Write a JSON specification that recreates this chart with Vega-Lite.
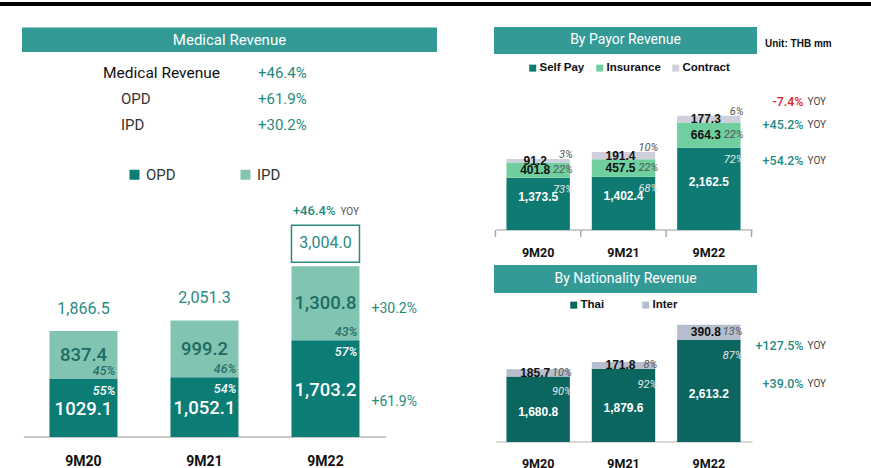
{
  "$schema": "https://vega.github.io/schema/vega-lite/v6.json",
  "padding": {"top": 2, "left": 0, "right": 0, "bottom": 0},
  "background": "white",
  "bounds": "flush",
  "spacing": 108,
  "config": {"font": "Roboto", "view": {"stroke": null}, "axisY": {"disable": true}, "axisX": {"disable": true}},
  "resolve": {"scale": {"color": "independent"}, "legend": {"color": "independent"}},
  "datasets": {
    "med": [
      {"period": "9M20", "seg": "OPD", "value": 1029.1, "label": "1029.1", "pct": "55%"},
      {"period": "9M20", "seg": "IPD", "value": 837.4, "label": "837.4", "pct": "45%", "total": "1,866.5"},
      {"period": "9M21", "seg": "OPD", "value": 1052.1, "label": "1,052.1", "pct": "54%"},
      {"period": "9M21", "seg": "IPD", "value": 999.2, "label": "999.2", "pct": "46%", "total": "2,051.3"},
      {"period": "9M22", "seg": "OPD", "value": 1703.2, "label": "1,703.2", "pct": "57%", "yoy": "+61.9%"},
      {"period": "9M22", "seg": "IPD", "value": 1300.8, "label": "1,300.8", "pct": "43%", "total": "3,004.0", "yoy": "+30.2%", "tyoy": "+46.4%"}
    ],
    "payor": [
      {"period": "9M20", "seg": "Self Pay", "value": 1373.5, "label": "1,373.5", "pct": "73%"},
      {"period": "9M20", "seg": "Insurance", "value": 401.8, "label": "401.8", "pct": "22%"},
      {"period": "9M20", "seg": "Contract", "value": 91.2, "label": "91.2", "pct": "3%"},
      {"period": "9M21", "seg": "Self Pay", "value": 1402.4, "label": "1,402.4", "pct": "68%"},
      {"period": "9M21", "seg": "Insurance", "value": 457.5, "label": "457.5", "pct": "22%"},
      {"period": "9M21", "seg": "Contract", "value": 191.4, "label": "191.4", "pct": "10%"},
      {"period": "9M22", "seg": "Self Pay", "value": 2162.5, "label": "2,162.5", "pct": "72%", "yoy": "+54.2%"},
      {"period": "9M22", "seg": "Insurance", "value": 664.3, "label": "664.3", "pct": "22%", "yoy": "+45.2%"},
      {"period": "9M22", "seg": "Contract", "value": 177.3, "label": "177.3", "pct": "6%", "yoy": "-7.4%"}
    ],
    "nat": [
      {"period": "9M20", "seg": "Thai", "value": 1680.8, "label": "1,680.8", "pct": "90%"},
      {"period": "9M20", "seg": "Inter", "value": 185.7, "label": "185.7", "pct": "10%"},
      {"period": "9M21", "seg": "Thai", "value": 1879.6, "label": "1,879.6", "pct": "92%"},
      {"period": "9M21", "seg": "Inter", "value": 171.8, "label": "171.8", "pct": "8%"},
      {"period": "9M22", "seg": "Thai", "value": 2613.2, "label": "2,613.2", "pct": "87%", "yoy": "+39.0%"},
      {"period": "9M22", "seg": "Inter", "value": 390.8, "label": "390.8", "pct": "13%", "yoy": "+127.5%"}
    ],
    "tbl": [
      {"row": "Medical Revenue", "chg": "+46.4%"},
      {"row": "OPD", "chg": "+61.9%"},
      {"row": "IPD", "chg": "+30.2%"}
    ]
  },
  "hconcat": [
    {
      "width": 386, "height": 435,
      "layer": [
        {
          "data": {"values": [{}]},
          "mark": {"type": "rect", "fill": "#000000", "xOffset": 485},
          "encoding": {"y": {"datum": 7658, "scale": {"domain": [0, 7658], "nice": false}, "axis": null}, "y2": {"datum": 7588}}
        },
        {
          "data": {"values": [{}]},
          "mark": {"type": "rect", "fill": "#339a96", "xOffset": -27.5, "x2Offset": 77.5},
          "encoding": {"x": {"datum": "9M20", "bandPosition": 0}, "x2": {"datum": "9M22", "bandPosition": 1}, "y": {"datum": 7210}, "y2": {"datum": 6778}}
        },
        {
          "data": {"values": [{"t": "Medical Revenue"}]},
          "mark": {"type": "text", "color": "white", "fontSize": 15, "dx": 36.5},
          "encoding": {"y": {"datum": 6989}, "text": {"field": "t"}}
        },
        {
          "data": {"name": "tbl"},
          "transform": [{"filter": "datum.row == 'Medical Revenue'"}],
          "layer": [
            {"mark": {"type": "text", "align": "left", "dx": -90, "fontSize": 15.5, "color": "#111111"}, "encoding": {"y": {"datum": 6408}, "text": {"field": "row"}}},
            {"mark": {"type": "text", "align": "left", "dx": 65, "fontSize": 15, "color": "#1f8a80"}, "encoding": {"y": {"datum": 6408}, "text": {"field": "chg"}}}
          ]
        },
        {
          "data": {"name": "tbl"},
          "transform": [{"filter": "datum.row == 'OPD'"}],
          "layer": [
            {"mark": {"type": "text", "align": "left", "dx": -72, "fontSize": 15, "color": "#333333"}, "encoding": {"y": {"datum": 5951}, "text": {"field": "row"}}},
            {"mark": {"type": "text", "align": "left", "dx": 65, "fontSize": 15, "color": "#1f8a80"}, "encoding": {"y": {"datum": 5951}, "text": {"field": "chg"}}}
          ]
        },
        {
          "data": {"name": "tbl"},
          "transform": [{"filter": "datum.row == 'IPD'"}],
          "layer": [
            {"mark": {"type": "text", "align": "left", "dx": -72, "fontSize": 15, "color": "#333333"}, "encoding": {"y": {"datum": 5493}, "text": {"field": "row"}}},
            {"mark": {"type": "text", "align": "left", "dx": 65, "fontSize": 15, "color": "#1f8a80"}, "encoding": {"y": {"datum": 5493}, "text": {"field": "chg"}}}
          ]
        },
        {
          "data": {"values": [{}]},
          "mark": {"type": "rule", "color": "#c8c8c8", "strokeWidth": 2, "xOffset": -25.5, "x2Offset": 26.5},
          "encoding": {"x": {"datum": "9M20", "bandPosition": 0}, "x2": {"datum": "9M22", "bandPosition": 1}, "y": {"datum": 0}}
        },
        {
          "data": {"name": "med"},
          "transform": [{"stack": "value", "groupby": ["period"], "sort": [{"field": "seg", "order": "descending"}], "as": ["y0", "y1"]}],
          "layer": [
            {
              "mark": {"type": "bar"},
              "encoding": {
                "x": {"field": "period", "type": "nominal", "scale": {"paddingInner": 0.438, "paddingOuter": 0.314, "align": 0.651}, "axis": null},
                "y": {"field": "y1", "type": "quantitative", "stack": null, "axis": null},
                "y2": {"field": "y0"},
                "color": {"field": "seg", "type": "nominal", "scale": {"domain": ["OPD", "IPD"], "range": ["#0b7d75", "#80c4b1"]},
                          "legend": {"orient": "none", "legendX": 127, "legendY": 165, "direction": "horizontal", "title": null, "symbolType": "square", "symbolSize": 100, "labelFontSize": 15, "labelColor": "#333333", "columnPadding": 62, "labelOffset": 4}}
              }
            },
            {
              "transform": [{"filter": "datum.seg == 'OPD'"}],
              "mark": {"type": "text", "dy": 25, "fontSize": 14, "fontWeight": "bold", "color": "#111111"},
              "encoding": {"x": {"field": "period", "type": "nominal"}, "y": {"datum": 0}, "text": {"field": "period"}}
            },
            {
              "transform": [{"filter": "datum.seg == 'IPD'"}, {"fold": ["y0", "y1"], "as": ["k", "pos"]}],
              "mark": {"type": "text", "fontSize": 18.5, "fontWeight": 500, "color": "#1e6b64"},
              "encoding": {"x": {"field": "period", "type": "nominal"}, "y": {"aggregate": "mean", "field": "pos", "type": "quantitative"}, "text": {"field": "label"}}
            },
            {
              "transform": [{"filter": "datum.seg == 'OPD'"}, {"fold": ["y0", "y1"], "as": ["k", "pos"]}],
              "mark": {"type": "text", "fontSize": 18.5, "fontWeight": 500, "color": "white", "dy": 1},
              "encoding": {"x": {"field": "period", "type": "nominal"}, "y": {"aggregate": "mean", "field": "pos", "type": "quantitative"}, "text": {"field": "label"}}
            },
            {
              "transform": [{"filter": "datum.seg == 'IPD'"}],
              "mark": {"type": "text", "align": "right", "dx": -2, "dy": -8, "fontSize": 12.5, "fontStyle": "italic", "fontWeight": 500, "color": "#2c6e66"},
              "encoding": {"x": {"field": "period", "type": "nominal", "bandPosition": 1}, "y": {"field": "y0", "type": "quantitative"}, "text": {"field": "pct"}}
            },
            {
              "transform": [{"filter": "datum.seg == 'OPD'"}],
              "mark": {"type": "text", "align": "right", "dx": -2, "dy": 12, "fontSize": 12.5, "fontStyle": "italic", "fontWeight": 500, "color": "white"},
              "encoding": {"x": {"field": "period", "type": "nominal", "bandPosition": 1}, "y": {"field": "y1", "type": "quantitative"}, "text": {"field": "pct"}}
            },
            {
              "transform": [{"filter": "datum.seg == 'IPD' && datum.period != '9M22'"}],
              "mark": {"type": "text", "dy": -22, "fontSize": 16, "color": "#2a8a82"},
              "encoding": {"x": {"field": "period", "type": "nominal"}, "y": {"field": "y1", "type": "quantitative"}, "text": {"field": "total"}}
            },
            {
              "transform": [{"filter": "datum.seg == 'IPD' && datum.period == '9M22'"}],
              "mark": {"type": "rect", "fill": "white", "stroke": "#2a8a82", "strokeWidth": 1.5, "yOffset": -4, "y2Offset": -41},
              "encoding": {"x": {"field": "period", "type": "nominal"}, "y": {"field": "y1", "type": "quantitative"}, "y2": {"field": "y1"}}
            },
            {
              "transform": [{"filter": "datum.seg == 'IPD' && datum.period == '9M22'"}],
              "mark": {"type": "text", "dy": -23, "fontSize": 16, "color": "#2a8a82"},
              "encoding": {"x": {"field": "period", "type": "nominal"}, "y": {"field": "y1", "type": "quantitative"}, "text": {"field": "total"}}
            },
            {
              "transform": [{"filter": "datum.seg == 'IPD' && datum.period == '9M22'"}],
              "mark": {"type": "text", "dy": -55, "dx": 10, "align": "right", "fontSize": 13, "fontWeight": 500, "color": "#1f8a80"},
              "encoding": {"x": {"field": "period", "type": "nominal"}, "y": {"field": "y1", "type": "quantitative"}, "text": {"field": "tyoy"}}
            },
            {
              "transform": [{"filter": "datum.seg == 'IPD' && datum.period == '9M22'"}],
              "mark": {"type": "text", "dy": -54, "dx": 15, "align": "left", "fontSize": 10, "color": "#555555"},
              "encoding": {"x": {"field": "period", "type": "nominal"}, "y": {"field": "y1", "type": "quantitative"}, "text": {"value": "YOY"}}
            },
            {
              "transform": [{"filter": "datum.seg == 'IPD' && datum.period == '9M22'"}, {"fold": ["y0", "y1"], "as": ["k", "pos"]}],
              "mark": {"type": "text", "align": "left", "dx": 12, "dy": 6, "fontSize": 14, "color": "#1f8a80"},
              "encoding": {"x": {"field": "period", "type": "nominal", "bandPosition": 1}, "y": {"aggregate": "mean", "field": "pos", "type": "quantitative"}, "text": {"field": "yoy"}}
            },
            {
              "transform": [{"filter": "datum.seg == 'OPD' && datum.period == '9M22'"}, {"fold": ["y0", "y1"], "as": ["k", "pos"]}],
              "mark": {"type": "text", "align": "left", "dx": 12, "dy": 13, "fontSize": 14, "color": "#1f8a80"},
              "encoding": {"x": {"field": "period", "type": "nominal", "bandPosition": 1}, "y": {"aggregate": "mean", "field": "pos", "type": "quantitative"}, "text": {"field": "yoy"}}
            }
          ]
        }
      ]
    },
    {
      "width": 259, "height": 440,
      "resolve": {"scale": {"y": "independent", "color": "independent"}, "legend": {"color": "independent"}},
      "layer": [
        {
          "layer": [
            {
              "data": {"values": [{}]},
              "mark": {"type": "rect", "fill": "#339a96", "xOffset": 4},
              "encoding": {"y": {"datum": 5342, "scale": {"domain": [-5579, 6000], "nice": false, "zero": false}, "axis": null}, "y2": {"datum": 4632}}
            },
            {
              "data": {"values": [{"t": "By Payor Revenue"}]},
              "mark": {"type": "text", "color": "white", "fontSize": 14, "dx": 2},
              "encoding": {"y": {"datum": 4987}, "text": {"field": "t"}}
            },
            {
              "data": {"values": [{"u": "Unit: THB mm"}]},
              "mark": {"type": "text", "align": "left", "dx": 141.5, "fontSize": 10, "fontWeight": "bold", "font": "Liberation Sans", "color": "#111111"},
              "encoding": {"y": {"datum": 4895}, "text": {"field": "u"}}
            },
            {
              "data": {"values": [{}]},
              "mark": {"type": "rule", "color": "#bbbbbb", "strokeWidth": 1.5, "xOffset": -10, "x2Offset": 12},
              "encoding": {"x": {"datum": "9M20", "bandPosition": 0}, "x2": {"datum": "9M22", "bandPosition": 1}, "y": {"datum": 0}}
            },
            {
              "data": {"name": "payor"},
              "transform": [{"stack": "value", "groupby": ["period"], "sort": [{"field": "seg", "order": "descending"}], "as": ["y0", "y1"]}],
              "layer": [
                {
                  "mark": {"type": "bar"},
                  "encoding": {
                    "x": {"field": "period", "type": "nominal", "scale": {"paddingInner": 0.257, "paddingOuter": 0.146}, "axis": null},
                    "y": {"field": "y1", "type": "quantitative", "stack": null, "axis": null},
                    "y2": {"field": "y0"},
                    "color": {"field": "seg", "type": "nominal", "scale": {"domain": ["Self Pay", "Insurance", "Contract"], "range": ["#0e7a72", "#6fcf9e", "#cfd0dc"]},
                              "legend": {"orient": "none", "legendX": 33, "legendY": 60, "direction": "horizontal", "title": null, "symbolType": "square", "symbolSize": 49, "labelFontSize": 11.5, "labelFontWeight": "bold", "labelFont": "Liberation Sans", "labelColor": "#111111", "columnPadding": 9, "labelOffset": 1}}
                  }
                },
                {
                  "transform": [{"filter": "datum.seg == 'Self Pay'"}],
                  "mark": {"type": "rule", "color": "#aaaaaa", "strokeWidth": 1.5, "xOffset": -11},
                  "encoding": {"x": {"field": "period", "type": "nominal", "bandPosition": 0}, "y": {"datum": 0}, "y2": {"datum": -184}}
                },
                {
                  "transform": [{"filter": "datum.seg == 'Self Pay' && datum.period == '9M22'"}],
                  "mark": {"type": "rule", "color": "#aaaaaa", "strokeWidth": 1.5, "xOffset": 11},
                  "encoding": {"x": {"field": "period", "type": "nominal", "bandPosition": 1}, "y": {"datum": 0}, "y2": {"datum": -184}}
                },
                {
                  "transform": [{"filter": "datum.seg == 'Self Pay'"}],
                  "mark": {"type": "text", "dy": 23, "fontSize": 12.5, "fontWeight": "bold", "color": "#111111"},
                  "encoding": {"x": {"field": "period", "type": "nominal"}, "y": {"datum": 0}, "text": {"field": "period"}}
                },
                {
                  "transform": [{"filter": "datum.seg != 'Self Pay'"}, {"fold": ["y0", "y1"], "as": ["k", "pos"]}],
                  "mark": {"type": "text", "fontSize": 12, "fontWeight": "bold", "font": "Liberation Sans", "color": "#111111", "dx": -3},
                  "encoding": {"x": {"field": "period", "type": "nominal"}, "y": {"aggregate": "mean", "field": "pos", "type": "quantitative"}, "text": {"field": "label"}}
                },
                {
                  "transform": [{"filter": "datum.seg == 'Self Pay'"}, {"fold": ["y0", "y1"], "as": ["k", "pos"]}],
                  "mark": {"type": "text", "fontSize": 12, "fontWeight": "bold", "font": "Liberation Sans", "color": "white", "dy": -7},
                  "encoding": {"x": {"field": "period", "type": "nominal"}, "y": {"aggregate": "mean", "field": "pos", "type": "quantitative"}, "text": {"field": "label"}}
                },
                {
                  "transform": [{"filter": "datum.seg == 'Contract'"}],
                  "mark": {"type": "text", "align": "right", "dx": 3, "dy": -4, "fontSize": 11, "fontStyle": "italic", "color": "#555555"},
                  "encoding": {"x": {"field": "period", "type": "nominal", "bandPosition": 1}, "y": {"field": "y1", "type": "quantitative"}, "text": {"field": "pct"}}
                },
                {
                  "transform": [{"filter": "datum.seg == 'Insurance'"}, {"fold": ["y0", "y1"], "as": ["k", "pos"]}],
                  "mark": {"type": "text", "align": "right", "dx": 3, "fontSize": 11, "fontStyle": "italic", "color": "#555555"},
                  "encoding": {"x": {"field": "period", "type": "nominal", "bandPosition": 1}, "y": {"aggregate": "mean", "field": "pos", "type": "quantitative"}, "text": {"field": "pct"}}
                },
                {
                  "transform": [{"filter": "datum.seg == 'Self Pay'"}],
                  "mark": {"type": "text", "align": "right", "dx": 3, "dy": 12, "fontSize": 11, "fontStyle": "italic", "color": "#e8e8e8"},
                  "encoding": {"x": {"field": "period", "type": "nominal", "bandPosition": 1}, "y": {"field": "y1", "type": "quantitative"}, "text": {"field": "pct"}}
                },
                {
                  "transform": [{"filter": "datum.seg == 'Contract' && datum.period == '9M22'"}],
                  "mark": {"type": "text", "align": "right", "dx": 63, "dy": -14, "fontSize": 12.5, "fontWeight": 500, "color": "#e02424"},
                  "encoding": {"x": {"field": "period", "type": "nominal", "bandPosition": 1}, "y": {"field": "y1", "type": "quantitative"}, "text": {"field": "yoy"}}
                },
                {
                  "transform": [{"filter": "datum.seg == 'Contract' && datum.period == '9M22'"}],
                  "mark": {"type": "text", "align": "left", "dx": 67, "dy": -14, "fontSize": 10, "color": "#444444"},
                  "encoding": {"x": {"field": "period", "type": "nominal", "bandPosition": 1}, "y": {"field": "y1", "type": "quantitative"}, "text": {"value": "YOY"}}
                },
                {
                  "transform": [{"filter": "datum.seg == 'Insurance' && datum.period == '9M22'"}],
                  "mark": {"type": "text", "align": "right", "dx": 63, "dy": 2, "fontSize": 12.5, "fontWeight": 500, "color": "#1f8a80"},
                  "encoding": {"x": {"field": "period", "type": "nominal", "bandPosition": 1}, "y": {"field": "y1", "type": "quantitative"}, "text": {"field": "yoy"}}
                },
                {
                  "transform": [{"filter": "datum.seg == 'Insurance' && datum.period == '9M22'"}],
                  "mark": {"type": "text", "align": "left", "dx": 67, "dy": 2, "fontSize": 10, "color": "#444444"},
                  "encoding": {"x": {"field": "period", "type": "nominal", "bandPosition": 1}, "y": {"field": "y1", "type": "quantitative"}, "text": {"value": "YOY"}}
                },
                {
                  "transform": [{"filter": "datum.seg == 'Self Pay' && datum.period == '9M22'"}],
                  "mark": {"type": "text", "align": "right", "dx": 63, "dy": 13, "fontSize": 12.5, "fontWeight": 500, "color": "#1f8a80"},
                  "encoding": {"x": {"field": "period", "type": "nominal", "bandPosition": 1}, "y": {"field": "y1", "type": "quantitative"}, "text": {"field": "yoy"}}
                },
                {
                  "transform": [{"filter": "datum.seg == 'Self Pay' && datum.period == '9M22'"}],
                  "mark": {"type": "text", "align": "left", "dx": 67, "dy": 13, "fontSize": 10, "color": "#444444"},
                  "encoding": {"x": {"field": "period", "type": "nominal", "bandPosition": 1}, "y": {"field": "y1", "type": "quantitative"}, "text": {"value": "YOY"}}
                }
              ]
            }
          ]
        },
        {
          "layer": [
            {
              "data": {"values": [{}]},
              "mark": {"type": "rect", "fill": "#339a96", "xOffset": 4},
              "encoding": {"y": {"datum": 4538, "scale": {"domain": [0, 11282], "nice": false}, "axis": null}, "y2": {"datum": 3821}}
            },
            {
              "data": {"values": [{"t": "By Nationality  Revenue"}]},
              "mark": {"type": "text", "color": "white", "fontSize": 14, "dx": 2},
              "encoding": {"y": {"datum": 4179}, "text": {"field": "t"}}
            },
            {
              "data": {"values": [{}]},
              "mark": {"type": "rule", "color": "#cccccc", "strokeWidth": 1.5, "xOffset": -10, "x2Offset": 12},
              "encoding": {"x": {"datum": "9M20", "bandPosition": 0}, "x2": {"datum": "9M22", "bandPosition": 1}, "y": {"datum": 0}}
            },
            {
              "data": {"name": "nat"},
              "transform": [{"stack": "value", "groupby": ["period"], "sort": [{"field": "seg", "order": "descending"}], "as": ["y0", "y1"]}],
              "layer": [
                {
                  "mark": {"type": "bar"},
                  "encoding": {
                    "x": {"field": "period", "type": "nominal", "scale": {"paddingInner": 0.257, "paddingOuter": 0.146}, "axis": null},
                    "y": {"field": "y1", "type": "quantitative", "stack": null, "axis": null},
                    "y2": {"field": "y0"},
                    "color": {"field": "seg", "type": "nominal", "scale": {"domain": ["Thai", "Inter"], "range": ["#0b6660", "#b6bdcc"]},
                              "legend": {"orient": "none", "legendX": 74, "legendY": 297, "direction": "horizontal", "title": null, "symbolType": "square", "symbolSize": 49, "labelFontSize": 11.5, "labelFontWeight": "bold", "labelFont": "Liberation Sans", "labelColor": "#111111", "columnPadding": 35, "labelOffset": 1}}
                  }
                },
                {
                  "transform": [{"filter": "datum.seg == 'Thai'"}],
                  "mark": {"type": "text", "dy": 22, "fontSize": 12.5, "fontWeight": "bold", "color": "#111111"},
                  "encoding": {"x": {"field": "period", "type": "nominal"}, "y": {"datum": 0}, "text": {"field": "period"}}
                },
                {
                  "transform": [{"filter": "datum.seg == 'Inter'"}, {"fold": ["y0", "y1"], "as": ["k", "pos"]}],
                  "mark": {"type": "text", "fontSize": 12, "fontWeight": "bold", "font": "Liberation Sans", "color": "#111111", "dx": -3},
                  "encoding": {"x": {"field": "period", "type": "nominal"}, "y": {"aggregate": "mean", "field": "pos", "type": "quantitative"}, "text": {"field": "label"}}
                },
                {
                  "transform": [{"filter": "datum.seg == 'Thai'"}, {"fold": ["y0", "y1"], "as": ["k", "pos"]}],
                  "mark": {"type": "text", "fontSize": 12, "fontWeight": "bold", "font": "Liberation Sans", "color": "white", "dy": 3},
                  "encoding": {"x": {"field": "period", "type": "nominal"}, "y": {"aggregate": "mean", "field": "pos", "type": "quantitative"}, "text": {"field": "label"}}
                },
                {
                  "transform": [{"filter": "datum.seg == 'Inter'"}, {"fold": ["y0", "y1"], "as": ["k", "pos"]}],
                  "mark": {"type": "text", "align": "right", "dx": 2, "fontSize": 11, "fontStyle": "italic", "color": "#555555"},
                  "encoding": {"x": {"field": "period", "type": "nominal", "bandPosition": 1}, "y": {"aggregate": "mean", "field": "pos", "type": "quantitative"}, "text": {"field": "pct"}}
                },
                {
                  "transform": [{"filter": "datum.seg == 'Thai'"}],
                  "mark": {"type": "text", "align": "right", "dx": 2, "dy": 16, "fontSize": 11, "fontStyle": "italic", "color": "#e8e8e8"},
                  "encoding": {"x": {"field": "period", "type": "nominal", "bandPosition": 1}, "y": {"field": "y1", "type": "quantitative"}, "text": {"field": "pct"}}
                },
                {
                  "transform": [{"filter": "datum.seg == 'Inter' && datum.period == '9M22'"}],
                  "mark": {"type": "text", "align": "right", "dx": 63, "dy": 6, "fontSize": 12.5, "fontWeight": 500, "color": "#1f8a80"},
                  "encoding": {"x": {"field": "period", "type": "nominal", "bandPosition": 1}, "y": {"field": "y0", "type": "quantitative"}, "text": {"field": "yoy"}}
                },
                {
                  "transform": [{"filter": "datum.seg == 'Inter' && datum.period == '9M22'"}],
                  "mark": {"type": "text", "align": "left", "dx": 67, "dy": 6, "fontSize": 10, "color": "#444444"},
                  "encoding": {"x": {"field": "period", "type": "nominal", "bandPosition": 1}, "y": {"field": "y0", "type": "quantitative"}, "text": {"value": "YOY"}}
                },
                {
                  "transform": [{"filter": "datum.seg == 'Thai' && datum.period == '9M22'"}],
                  "mark": {"type": "text", "align": "right", "dx": 63, "dy": 44, "fontSize": 12.5, "fontWeight": 500, "color": "#1f8a80"},
                  "encoding": {"x": {"field": "period", "type": "nominal", "bandPosition": 1}, "y": {"field": "y1", "type": "quantitative"}, "text": {"field": "yoy"}}
                },
                {
                  "transform": [{"filter": "datum.seg == 'Thai' && datum.period == '9M22'"}],
                  "mark": {"type": "text", "align": "left", "dx": 67, "dy": 44, "fontSize": 10, "color": "#444444"},
                  "encoding": {"x": {"field": "period", "type": "nominal", "bandPosition": 1}, "y": {"field": "y1", "type": "quantitative"}, "text": {"value": "YOY"}}
                }
              ]
            }
          ]
        }
      ]
    }
  ]
}
